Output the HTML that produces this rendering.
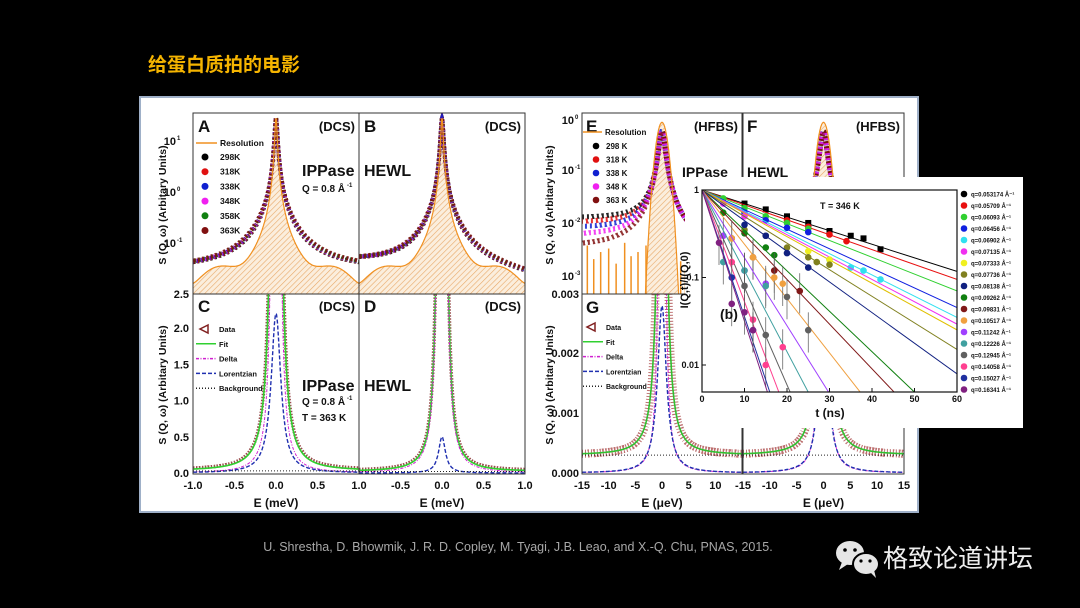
<!DOCTYPE html>
<html><head><meta charset="utf-8">
<style>
html,body{margin:0;padding:0;background:#000;width:1080px;height:608px;overflow:hidden;}
svg{display:block;}
text{font-family:"Liberation Sans","Noto Sans CJK SC",sans-serif;}
.b{font-weight:bold;}
</style></head>
<body>
<svg id="fig" width="1080" height="608" viewBox="0 0 1080 608" xmlns="http://www.w3.org/2000/svg">
<defs>
<pattern id="hatch" width="4" height="4" patternUnits="userSpaceOnUse" patternTransform="rotate(45)">
<rect width="4" height="4" fill="#fbeedd"/><line x1="0" y1="0" x2="0" y2="4" stroke="#e8a868" stroke-width="1.2"/>
</pattern>
<clipPath id="cA"><rect x="193" y="113" width="166" height="181"/></clipPath>
<clipPath id="cB"><rect x="359" y="113" width="166" height="181"/></clipPath>
<clipPath id="cC"><rect x="193" y="294" width="166" height="180"/></clipPath>
<clipPath id="cD"><rect x="359" y="294" width="166" height="180"/></clipPath>
<clipPath id="cE"><rect x="582" y="113" width="160" height="181"/></clipPath>
<clipPath id="cF"><rect x="743" y="113" width="161" height="181"/></clipPath>
<clipPath id="cG"><rect x="582" y="294" width="160" height="180"/></clipPath>
<clipPath id="cH"><rect x="743" y="294" width="161" height="180"/></clipPath>
<clipPath id="cI"><rect x="702" y="190" width="255" height="202"/></clipPath>
</defs>
<text x="148" y="71" class="b" font-size="19" fill="#f5b400">给蛋白质拍的电影</text>
<rect x="140" y="97" width="778" height="415" fill="#fff" stroke="#9fb0c8" stroke-width="2"/>
<g id="plots"></g>
<text x="518" y="551" font-size="12.5" fill="#a8a8a8" text-anchor="middle">U. Shrestha, D. Bhowmik, J. R. D. Copley, M. Tyagi, J.B. Leao, and X.-Q. Chu, PNAS, 2015.</text>
<g>
<ellipse cx="850" cy="553" rx="14" ry="12" fill="#e6e6e6"/><path d="M842 562 L839 570 L848 564Z" fill="#e6e6e6"/>
<circle cx="845" cy="550" r="1.8" fill="#000"/><circle cx="855" cy="550" r="1.8" fill="#000"/>
<ellipse cx="866" cy="564" rx="13" ry="11" fill="#e6e6e6" stroke="#000" stroke-width="2"/><path d="M871 573 L876 578 L874 570Z" fill="#e6e6e6"/>
<circle cx="861" cy="561" r="1.6" fill="#000"/><circle cx="870" cy="561" r="1.6" fill="#000"/>
</g>
<text x="883" y="567" font-size="25" fill="#eee">格致论道讲坛</text>
</svg>
<script>
// ---- data ----
const dcsPeakA=[28,0.016];     // amplitude, half-width (meV)
const dcsBroadA=[0.3,0.15];
const dcsBgA=[0.03];
const temps=['298K','318K','338K','348K','358K','363K'];
const tempColors=['#000','#e01010','#1020d0','#f020f0','#108010','#801010'];
const tempBroad=[0.22,0.25,0.28,0.30,0.32,0.36];
const resBgA=[0.018];
const fitC=[30,0.022,2.2,0.07,0.03]; // delta amp,width, lorentz amp,width, bg
const fitD=[60,0.016,0.5,0.05,0.02];
const hfbsPeak=[0.6,0.8];
const hfbsBg=[0.012];
const spikeE=[-14,-12.8,-11.5,-10,-8.6,-7,-5.8,-4.5,-3,3.5,4.4];
const spikeV=[0.004,0.0022,0.003,0.0035,0.0018,0.0045,0.0025,0.003,0.004,0.002,0.0014];
const fitG=[0.02,0.35,0.0028,1.0,0.0003];
const qLabels=['0.053174','0.05709','0.06093','0.06456','0.06902','0.07135','0.07333','0.07736','0.08138','0.09262','0.09831','0.10517','0.11242','0.12226','0.12945','0.14058','0.15027','0.16341'];
const tau=[28,25.5,22.6,19.4,17.9,17,16.3,14.3,12.4,9.4,8.5,7,5.6,4.7,3.9,3.4,3.0,2.6];
const qColors=['#000','#e81010','#30d030','#1020e0','#30e0f0','#f030f0','#f0f020','#808020','#102080','#108010','#801818','#f0a040','#a040ff','#40a0a0','#606060','#ff4090','#2030a0','#802080'];
const ptsT=[[10,15,20,25,30,35,38,42],[20,25,30,34],[5,10,15,20,25],[10,15,20,25],[30,35,38,42],[5,10],[25,30],[10,15,20,25,27,30],[10,15,20,25],[5,10,15,17],[7,12,17,23],[7,12,17,19],[5,10,15],[5,10,15],[10,15,20,25],[7,12,15,19],[7,12],[4,7,10,12]];
const ptsV=[[0.7,0.6,0.5,0.42,0.34,0.3,0.28,0.21],[0.45,0.38,0.31,0.26],[0.8,0.62,0.5,0.42,0.36],[0.55,0.45,0.37,0.33],[0.16,0.13,0.12,0.095],[0.7,0.5],[0.2,0.16],[0.35,0.3,0.22,0.17,0.15,0.14],[0.4,0.3,0.19,0.13],[0.55,0.32,0.22,0.18],[0.28,0.17,0.12,0.07],[0.28,0.17,0.1,0.085],[0.3,0.12,0.085],[0.15,0.12,0.08],[0.08,0.022,0.06,0.025],[0.15,0.033,0.01,0.016],[0.1,0.025],[0.25,0.05,0.04,0.025]];
const insetXTicks=[0,10,20,30,40,50,60];
const insetYTicks=[1,0.1,0.01];

// ---- helpers ----
const NS='http://www.w3.org/2000/svg';
const root=document.getElementById('plots');
function mk(tag,attrs,parent,name){const e=document.createElementNS(NS,tag);for(const k in attrs)e.setAttribute(k,attrs[k]);


(parent||root).appendChild(e);return e;}
function txt(x,y,s,size,name,opt){const t=mk('text',Object.assign({x:x,y:y,'font-size':size,'font-weight':'bold',fill:'#111'},opt||{}),root,name);t.textContent=s;return t;}
const lin=(d0,d1,r0,r1)=>v=>r0+(v-d0)*(r1-r0)/(d1-d0);
const lg=(d0,d1,r0,r1)=>v=>r0+(Math.log10(Math.max(v,1e-9))-d0)*(r1-r0)/(d1-d0);
const lor=(E,a,g)=>a*g*g/(E*E+g*g);
function path(xs,f,sx,sy){return xs.map((E,i)=>(i?'L':'M')+sx(E).toFixed(1)+' '+sy(f(E)).toFixed(1)).join('');}
function grid(a,b,n){const r=[];for(let i=0;i<=n;i++)r.push(a+(b-a)*i/n);return r;}
const Em=grid(-1,1,600), Eu=grid(-15,15,600);
function frame(x,y,w,h,name){mk('rect',{x:x,y:y,width:w,height:h,fill:'none',stroke:'#333','stroke-width':1},root,name);}

// ---- Panels A & B (DCS log) ----
function dcsLog(x0,clip,letter,prot,skew,name){
  const sx=lin(-1,1,x0,x0+166), sy=lg(-1,1,243,141);
  const g=mk('g',{'clip-path':'url(#'+clip+')'},root,name);
  const res=E=>lor(E,dcsPeakA[0],dcsPeakA[1]*0.8)+resBgA[0]*(1+0.4*Math.cos(E*9));
  mk('path',{d:path(Em,res,sx,sy)+'L'+(x0+166)+' 300 L'+x0+' 300Z',fill:'url(#hatch)',stroke:'none'},g,'resolution-fill');
  temps.forEach((t,i)=>{
    const f=E=>lor(E,dcsPeakA[0],dcsPeakA[1])+lor(E,tempBroad[i]*(prot?1:0.8),dcsBroadA[1])+dcsBgA[0]*(1-skew*E);
    mk('path',{d:path(Em,f,sx,sy),fill:'none',stroke:tempColors[i],'stroke-width':4,'stroke-dasharray':'2 2.5','stroke-dashoffset':i*0.8,opacity:0.9},g,'data-'+t);
  });
  mk('path',{d:path(Em,res,sx,sy),fill:'none',stroke:'#f09020','stroke-width':1.2},g,'resolution-line');
  frame(x0,113,166,181,name+'-frame');
  txt(x0+5,132,letter,17,'panel-label-'+letter.toLowerCase());
  txt(x0+162,131,'(DCS)',13,'instrument-label',{'text-anchor':'end'});
}
dcsLog(193,'cA','A',true,0,'panel-a');
dcsLog(359,'cB','B',false,0.4,'panel-b');
txt(302,176,'IPPase',16,'sample-ippase');
txt(302,192,'Q = 0.8 Å',10,'q-value');txt(347,187,'-1',6,'q-exp');
txt(364,176,'HEWL',16,'sample-hewl');
mk('line',{x1:196,y1:143,x2:217,y2:143,stroke:'#f09020','stroke-width':1.5},root,'legend-resolution-line');
txt(220,146,'Resolution',8.5,'legend-resolution');
temps.forEach((t,i)=>{const y=157+i*14.7;
  mk('circle',{cx:205,cy:y,r:3.5,fill:tempColors[i]},root,'legend-marker-'+t);
  txt(220,y+3,t,8.5,'legend-'+t);});
[['10','1',145],['10','0',196],['10','-1',247]].forEach(a=>{txt(176,a[2],a[0],11,'y-tick-a',{'text-anchor':'end'});txt(177,a[2]-5,a[1],6,'y-tick-exp');});
txt(189,298,'2.5',11,'y-tick-a',{'text-anchor':'end'});

// ---- Panels C & D (linear) ----
function dcsLin(x0,clip,letter,p,name){
  const sx=lin(-1,1,x0,x0+166), sy=lin(0,2.47,473,294);
  const g=mk('g',{'clip-path':'url(#'+clip+')'},root,name);
  const fit=E=>lor(E,p[0],p[1])+lor(E,p[2],p[3])+p[4];
  mk('path',{d:path(Em,E=>fit(E)*1.05+0.01,sx,sy),fill:'none',stroke:'#802020','stroke-width':3.5,'stroke-dasharray':'1.5 1.5',opacity:0.8},g,'data-points');
  mk('path',{d:path(Em,fit,sx,sy),fill:'none',stroke:'#30d030','stroke-width':1.6},g,'fit-line');
  mk('path',{d:path(Em,E=>lor(E,p[0],p[1]),sx,sy),fill:'none',stroke:'#d020d0','stroke-width':1,'stroke-dasharray':'3 1.5 1 1.5'},g,'delta-line');
  mk('path',{d:path(Em,E=>lor(E,p[2],p[3]),sx,sy),fill:'none',stroke:'#2030b0','stroke-width':1.4,'stroke-dasharray':'4 2'},g,'lorentzian-line');
  mk('line',{x1:x0,y1:sy(p[4]),x2:x0+166,y2:sy(p[4]),stroke:'#222','stroke-width':1,'stroke-dasharray':'1 2'},g,'background-line');
  frame(x0,294,166,180,name+'-frame');
  txt(x0+5,312,letter,17,'panel-label-'+letter.toLowerCase());
  txt(x0+162,311,'(DCS)',13,'instrument-label',{'text-anchor':'end'});
  [-1,-0.5,0,0.5,1].forEach(v=>{if(x0>300&&v==-1)return;txt(sx(v),489,v.toFixed(1),11,'x-tick',{'text-anchor':'middle'});});
}
dcsLin(193,'cC','C',fitC,'panel-c');
dcsLin(359,'cD','D',fitD,'panel-d');
txt(302,391,'IPPase',16,'sample-ippase-c');
txt(302,405,'Q = 0.8 Å',10,'q-value-c');txt(347,400,'-1',6,'q-exp');
txt(302,421,'T = 363 K',10,'temperature-c');
txt(364,391,'HEWL',16,'sample-hewl-d');
[2.0,1.5,1.0,0.5,0.0].forEach(v=>txt(189,477-v*72.5,v.toFixed(1),11,'y-tick-c',{'text-anchor':'end'}));
function fitLegend(x,y0,sp,fs){
  mk('path',{d:`M${x+12} ${y0-4} L${x+4} ${y0} L${x+12} ${y0+4}Z`,fill:'none',stroke:'#802020','stroke-width':1.5},root,'legend-data-marker');
  const items=[['Data',null],['Fit',['#30d030','']],['Delta',['#d020d0','3 1.5 1 1.5']],['Lorentzian',['#2030b0','4 2']],['Background',['#222','1 2']]];
  items.forEach((it,i)=>{const y=y0+i*sp;
    if(it[1])mk('line',{x1:x,y1:y,x2:x+20,y2:y,stroke:it[1][0],'stroke-width':1.5,'stroke-dasharray':it[1][1]},root,'legend-'+it[0].toLowerCase()+'-line');
    txt(x+23,y+3,it[0],fs,'legend-'+it[0].toLowerCase());});
}
fitLegend(196,329,14.8,7.5);
txt(276,507,'E (meV)',12,'x-axis-title-c',{'text-anchor':'middle'});
txt(442,507,'E (meV)',12,'x-axis-title-d',{'text-anchor':'middle'});
['205','385'].forEach((cy,i)=>{txt(0,0,'S (Q, ω) (Arbitary Units)',10.5,'y-axis-title-left',{'text-anchor':'middle',transform:`translate(166,${cy}) rotate(-90)`});
 txt(0,0,'S (Q, ω) (Arbitary Units)',10.5,'y-axis-title-right',{'text-anchor':'middle',transform:`translate(553,${cy}) rotate(-90)`});});

// ---- Panels E & F (HFBS log) ----
function hfbsLog(x0,w,clip,letter,name){
  const sx=lin(-15,15,x0,x0+w), sy=lg(0,-3,120,277);
  const g=mk('g',{'clip-path':'url(#'+clip+')'},root,name);
  const res=E=>hfbsPeak[0]*1.5*Math.exp(-E*E/(2*hfbsPeak[1]*hfbsPeak[1]))+1e-5;
  mk('path',{d:path(Eu,res,sx,sy)+'Z',fill:'url(#hatch)',stroke:'none'},g,'resolution-fill');
  spikeE.forEach((e,i)=>mk('line',{x1:sx(e),y1:300,x2:sx(e),y2:sy(spikeV[i]),stroke:'#f09020','stroke-width':1.5},g,'resolution-spike'));
  [0,1,2,3,4].forEach(i=>{const f=E=>lor(E,hfbsPeak[0],hfbsPeak[1]*0.7)+hfbsBg[0]*(E<0?1.1-0.2*i:0.3);
    mk('path',{d:path(Eu,f,sx,sy),fill:'none',stroke:tempColors[[0,1,2,3,5][i]],'stroke-width':5,'stroke-dasharray':'2 3','stroke-dashoffset':i,opacity:0.85},g,'data-hfbs');});
  mk('path',{d:path(Eu,res,sx,sy),fill:'none',stroke:'#f09020','stroke-width':1.2},g,'resolution-line');
  frame(x0,113,w,181,name+'-frame');
  txt(x0+4,132,letter,17,'panel-label-'+letter.toLowerCase());
  txt(x0+w-4,131,'(HFBS)',13,'instrument-label',{'text-anchor':'end'});
}
hfbsLog(582,160,'cE','E','panel-e');
hfbsLog(743,161,'cF','F','panel-f');
txt(682,177,'IPPase',14,'sample-ippase-e');
txt(747,177,'HEWL',14,'sample-hewl-f');
mk('line',{x1:583,y1:132,x2:602,y2:132,stroke:'#f09020','stroke-width':1.5},root,'legend-resolution-line-e');
txt(605,135,'Resolution',8,'legend-resolution-e');
['298 K','318 K','338 K','348 K','363 K'].forEach((t,i)=>{const y=146+i*13.5;
  mk('circle',{cx:596,cy:y,r:3.3,fill:tempColors[[0,1,2,3,5][i]]},root,'legend-marker-e');
  txt(606,y+3,t,8,'legend-e-'+i);});
[['10','0',124],['10','-1',174],['10','-2',227],['10','-3',280]].forEach(a=>{txt(574,a[2],a[0],11,'y-tick-e',{'text-anchor':'end'});txt(575,a[2]-5,a[1],6,'y-tick-exp');});
txt(579,298,'0.003',11,'y-tick-g',{'text-anchor':'end'});
txt(579,357,'0.002',11,'y-tick-g',{'text-anchor':'end'});
txt(579,417,'0.001',11,'y-tick-g',{'text-anchor':'end'});
txt(579,477,'0.000',11,'y-tick-g',{'text-anchor':'end'});

// ---- Panels G & H ----
function hfbsLin(x0,w,clip,letter,name){
  const sx=lin(-15,15,x0,x0+w), sy=lin(0,0.003,473,294);
  const g=mk('g',{'clip-path':'url(#'+clip+')'},root,name);
  const p=fitG, fit=E=>lor(E,p[0],p[1])+lor(E,p[2],p[3])+p[4];
  mk('path',{d:path(Eu,fit,sx,sy),fill:'none',stroke:'#a03030','stroke-width':8,'stroke-dasharray':'1 2',opacity:0.7},g,'data-points');
  mk('path',{d:path(Eu,fit,sx,sy),fill:'none',stroke:'#30c030','stroke-width':1.6},g,'fit-line');
  mk('path',{d:path(Eu,E=>lor(E,p[0],p[1]),sx,sy),fill:'none',stroke:'#d020d0','stroke-width':1,'stroke-dasharray':'3 1.5 1 1.5'},g,'delta-line');
  mk('path',{d:path(Eu,E=>lor(E,p[2],p[3]),sx,sy),fill:'none',stroke:'#2030b0','stroke-width':1.4,'stroke-dasharray':'4 2'},g,'lorentzian-line');
  mk('line',{x1:x0,y1:sy(p[4]),x2:x0+w,y2:sy(p[4]),stroke:'#222','stroke-width':1,'stroke-dasharray':'1 2'},g,'background-line');
  frame(x0,294,w,180,name+'-frame');
  if(letter)txt(x0+4,313,letter,17,'panel-label-'+letter.toLowerCase());
  [-15,-10,-5,0,5,10,15].forEach(v=>{if(x0<700&&v==15)return;txt(sx(v),489,String(v),11,'x-tick',{'text-anchor':'middle'});});
  txt(sx(0),507,'E (μeV)',12,'x-axis-title',{'text-anchor':'middle'});
}
hfbsLin(582,160,'cG','G','panel-g');
hfbsLin(743,161,'cH','','panel-h');
fitLegend(583,327,14.8,7);

// ---- Inset (b) ----
const ix=lin(0,60,702,957), iy=lg(0,-2,190,365);
mk('rect',{x:685,y:177,width:338,height:251,fill:'#fff'},root,'inset-background');
const ig=mk('g',{'clip-path':'url(#cI)'},root,'inset-plot');
qLabels.forEach((q,i)=>{
  mk('line',{x1:ix(0),y1:iy(1),x2:ix(60),y2:iy(Math.exp(-60/tau[i])),stroke:qColors[i]==='#f0f020'?'#e0c000':qColors[i],'stroke-width':1},ig,'fit-line-q'+i);
  ptsT[i].forEach((t,j)=>{const v=ptsV[i][j];
    if(i>=10)mk('line',{x1:ix(t),y1:iy(v*1.6),x2:ix(t),y2:iy(v/1.8),stroke:'#555','stroke-width':0.7},ig,'error-bar');
    if(i===0)mk('rect',{x:ix(t)-3,y:iy(v)-3,width:6,height:6,fill:qColors[i]},ig,'point-q'+i);
    else mk('circle',{cx:ix(t),cy:iy(v),r:3.3,fill:qColors[i]},ig,'point-q'+i);});
});
mk('rect',{x:702,y:190,width:255,height:202,fill:'none',stroke:'#111','stroke-width':1.2},root,'inset-frame');
insetXTicks.forEach(v=>{mk('line',{x1:ix(v),y1:392,x2:ix(v),y2:388,stroke:'#111'},root,'inset-x-tick');txt(ix(v),402,String(v),9,'inset-x-tick-label',{'text-anchor':'middle'});});
insetYTicks.forEach(v=>{mk('line',{x1:702,y1:iy(v),x2:706,y2:iy(v),stroke:'#111'},root,'inset-y-tick');txt(699,iy(v)+3,String(v),9,'inset-y-tick-label',{'text-anchor':'end'});});
txt(830,417,'t (ns)',12,'inset-x-axis-title',{'text-anchor':'middle'});
txt(0,0,'I(Q,t)/I(Q,0)',11,'inset-y-axis-title',{'text-anchor':'middle',transform:'translate(688,280) rotate(-90)'});
txt(720,319,'(b)',14,'inset-label');
txt(820,209,'T = 346 K',9,'inset-temperature');
qLabels.forEach((q,i)=>{const y=194+i*11.5;
  mk('circle',{cx:964,cy:y,r:3.3,fill:qColors[i]},root,'legend-marker-q'+i);
  txt(971,y+2.5,'q='+q+' Å⁻¹',6,'legend-q'+i);});
</script>
</body></html>
